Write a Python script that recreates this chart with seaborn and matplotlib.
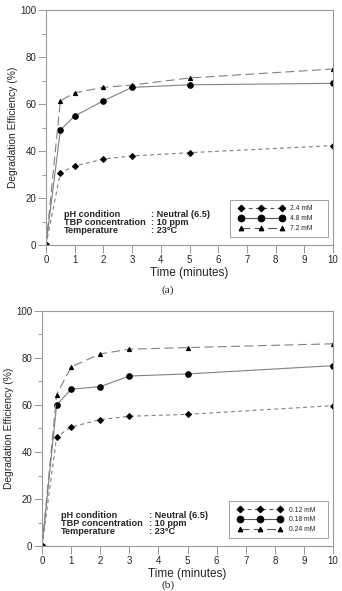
import matplotlib
matplotlib.use("Agg")
import matplotlib.pyplot as plt
import seaborn as sns
import pandas as pd
from matplotlib.ticker import MultipleLocator
from matplotlib.lines import Line2D
from matplotlib.legend_handler import HandlerLine2D

time = [0, 0.5, 1, 2, 3, 5, 10]

labels_a = ["2.4 mM", "4.8 mM", "7.2 mM"]
a_low = [0, 30.8, 33.6, 36.6, 37.9, 39.3, 42.3]
a_mid = [0, 48.9, 54.9, 61.4, 67.1, 68.2, 68.8]
a_high = [0, 61.4, 64.8, 67.1, 68.1, 71.1, 74.9]

labels_b = ["0.12 mM", "0.18 mM", "0.24 mM"]
b_low = [0, 46.5, 50.6, 53.8, 55.2, 56.0, 59.7]
b_mid = [0, 60.0, 66.7, 67.8, 72.3, 73.2, 76.7]
b_high = [0, 64.4, 76.2, 81.7, 83.7, 84.4, 86.0]

x_ticks = list(range(0, 11))
y_ticks = [0, 20, 40, 60, 80, 100]

sns.set_style("ticks")
plt.rcParams['font.family'] = ['Liberation Sans', 'DejaVu Sans']

fig = plt.figure(figsize=(3.42, 5.91), dpi=100)
ax_a = fig.add_axes([0.1345, 0.5854, 0.8395, 0.3976])
ax_b = fig.add_axes([0.123, 0.076, 0.851, 0.398])

styles = [
    dict(marker="D", markersize=3.0, linestyle=(0, (3.5, 3)), linewidth=0.8),
    dict(marker="o", markersize=4.0, linestyle="-", linewidth=0.8),
    dict(marker="^", markersize=3.0, linestyle=(0, (8, 4)), linewidth=0.8),
]
legend_marker_sizes = [3.4, 4.8, 3.4]

def draw(ax, series, labels, caption, cap_y):
    for vals, lab, st in zip(series, labels, styles):
        df = pd.DataFrame({"t": time, "v": vals})
        sns.lineplot(data=df, x="t", y="v", ax=ax, color="#808080",
                     markerfacecolor="black", markeredgecolor="black",
                     label=lab, **st)
    ax.set_xlim(0, 10)
    ax.set_ylim(0, 100)
    ax.set_xticks(x_ticks)
    ax.set_yticks(y_ticks)
    ax.yaxis.set_minor_locator(MultipleLocator(10))
    ax.tick_params(axis="both", which="major", labelsize=7, length=5.5,
                   width=0.6, color="#888888", pad=1.5)
    ax.tick_params(axis="y", which="minor", length=3, width=0.6, color="#888888")
    for s in ax.spines.values():
        s.set_visible(True)
        s.set_color("#999999")
        s.set_linewidth(0.8)
    ax.set_xlabel("Time (minutes)", fontsize=8.5, labelpad=1.5)
    ax.set_ylabel("Degradation Efficiency (%)", fontsize=7.4, labelpad=1.5)
    ax.text(0.64, 9.6, "pH condition\nTBP concentration\nTemperature",
            fontsize=6.6, fontweight="bold", va="center", ha="left",
            linespacing=0.82)
    ax.text(3.66, 9.6, ": Neutral (6.5)\n: 10 ppm\n: 23\u00b0C",
            fontsize=6.6, fontweight="bold", va="center", ha="left",
            linespacing=0.82)
    leg = ax.legend(loc="lower left", bbox_to_anchor=(0.641, 0.034, 0.342, 0.14),
                    mode="expand",
                    fontsize=4.9, numpoints=3, handlelength=7.7,
                    frameon=True, fancybox=False, edgecolor="#777777",
                    borderpad=0.75, labelspacing=0.4, handletextpad=0.4,
                    borderaxespad=0,
                    handler_map={Line2D: HandlerLine2D(marker_pad=0.85)})
    leg.get_frame().set_linewidth(0.6)
    for h, ms in zip(leg.legend_handles, legend_marker_sizes):
        h.set_color("#555555")
        h.set_markerfacecolor("black")
        h.set_markeredgecolor("black")
        h.set_markersize(ms)
    fig.text(0.49, cap_y, caption, ha="center", va="center",
             fontsize=8.2, family=["Liberation Serif", "DejaVu Serif"])

draw(ax_a, [a_low, a_mid, a_high], labels_a, "(a)", 1 - 290 / 591)
draw(ax_b, [b_low, b_mid, b_high], labels_b, "(b)", 1 - 585.5 / 591)

fig.savefig("out.png", dpi=100)
